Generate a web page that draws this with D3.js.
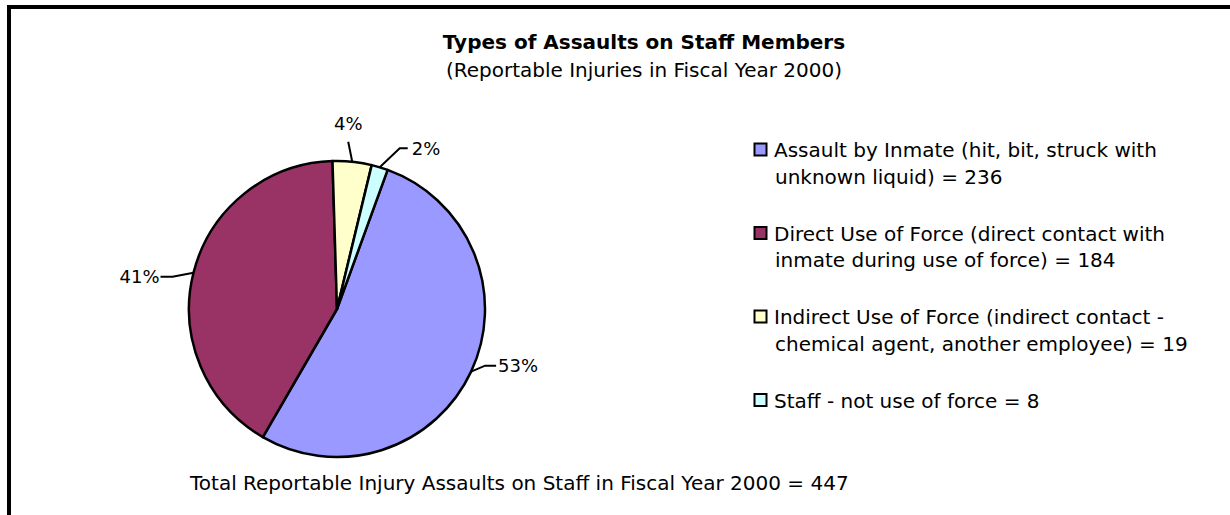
<!DOCTYPE html>
<html>
<head>
<meta charset="utf-8">
<script src="https://cdn.jsdelivr.net/npm/d3@7"></script>
<style>
  html, body { margin: 0; padding: 0; background: #fff; }
  svg { display: block; }
  text { font-family: "DejaVu Sans", sans-serif; fill: #000; }
</style>
</head>
<body>
<svg id="chart" width="1230" height="515"></svg>
<script>
// Injury counts by assault type, fiscal year 2000
const categories = [
  "Assault by Inmate",
  "Direct Use of Force",
  "Indirect Use of Force",
  "Staff - not use of force"
];
const legendLines = [
  ["Assault by Inmate (hit, bit, struck with", "unknown liquid) = 236"],
  ["Direct Use of Force (direct contact with", "inmate during use of force) = 184"],
  ["Indirect Use of Force (indirect contact -", "chemical agent, another employee) = 19"],
  ["Staff - not use of force = 8"]
];
const counts = [236, 184, 19, 8];
const colors = ["#9999FF", "#993366", "#FFFFCC", "#CCFFFF"];
const titleText = "Types of Assaults on Staff Members";
const subtitleText = "(Reportable Injuries in Fiscal Year 2000)";
const footerText = "Total Reportable Injury Assaults on Staff in Fiscal Year 2000 = 447";

const svg = d3.select("#chart");

// frame (right and bottom edges run off the page)
svg.append("rect")
  .attr("x", 9).attr("y", 7)
  .attr("width", 1400).attr("height", 700)
  .attr("fill", "none").attr("stroke", "#000").attr("stroke-width", 4);

// titles
svg.append("text").attr("x", 644).attr("y", 49)
  .attr("text-anchor", "middle").attr("font-size", 20).attr("font-weight", "bold")
  .text(titleText);
svg.append("text").attr("x", 644).attr("y", 77)
  .attr("text-anchor", "middle").attr("font-size", 20)
  .text(subtitleText);

// pie
const cx = 337, cy = 309, r = 148;
const deg = Math.PI / 180;
const pie = d3.pie().sort(null).value(d => d)
  .startAngle(20 * deg).endAngle(380 * deg);
const arcs = pie(counts);
const arc = d3.arc().innerRadius(0).outerRadius(r);
const total = d3.sum(counts);
const pct = d3.format(".0%");

const g = svg.append("g").attr("transform", `translate(${cx},${cy})`);
g.selectAll("path.slice").data(arcs).enter().append("path")
  .attr("class", "slice")
  .attr("d", arc)
  .attr("fill", (d, i) => colors[i])
  .attr("stroke", "#000").attr("stroke-width", 2.5)
  .attr("stroke-linejoin", "round");

// label placement per slice: elbow offset, tick direction, text anchor
const labelSpec = [
  { elbow: [14, -6], tick: 11, anchor: "start", dx: 2, dy: 6.5 },
  { elbow: [-21, 4], tick: -12, anchor: "end", dx: -1, dy: 6.5 },
  { elbow: [-4, -20], tick: 0, anchor: "middle", dx: 0, dy: -12 },
  { elbow: [20, -19], tick: 8, anchor: "start", dx: 4, dy: 7 }
];

arcs.forEach((d, i) => {
  const mid = (d.startAngle + d.endAngle) / 2;
  const px = Math.sin(mid) * r, py = -Math.cos(mid) * r;
  const s = labelSpec[i];
  const ex = px + s.elbow[0], ey = py + s.elbow[1];
  const tx = ex + s.tick;
  const pts = [[px, py], [ex, ey], [tx, ey]];
  g.append("path")
    .attr("d", d3.line()(pts))
    .attr("fill", "none").attr("stroke", "#000").attr("stroke-width", 2);
  g.append("text")
    .attr("x", tx + s.dx).attr("y", ey + s.dy)
    .attr("text-anchor", s.anchor).attr("font-size", 18)
    .text(pct(d.data / total));
});

// legend
const legend = svg.append("g").attr("transform", "translate(754,157)");
const entry = legend.selectAll("g.entry").data(categories).enter().append("g")
  .attr("class", "entry")
  .attr("transform", (d, i) => `translate(0,${i * 83.5})`);
entry.append("rect")
  .attr("x", 0.5).attr("y", -13.5).attr("width", 12).attr("height", 12)
  .attr("fill", (d, i) => colors[i]).attr("stroke", "#000").attr("stroke-width", 2);
entry.each(function (d, i) {
  const t = d3.select(this).append("text").attr("font-size", 20);
  legendLines[i].forEach((line, j) => {
    t.append("tspan").attr("x", j === 0 ? 20 : 21).attr("y", j * 26.5).text(line);
  });
});

// footer total
svg.append("text").attr("x", 190).attr("y", 490)
  .attr("font-size", 20)
  .text(footerText);
</script>
</body>
</html>
